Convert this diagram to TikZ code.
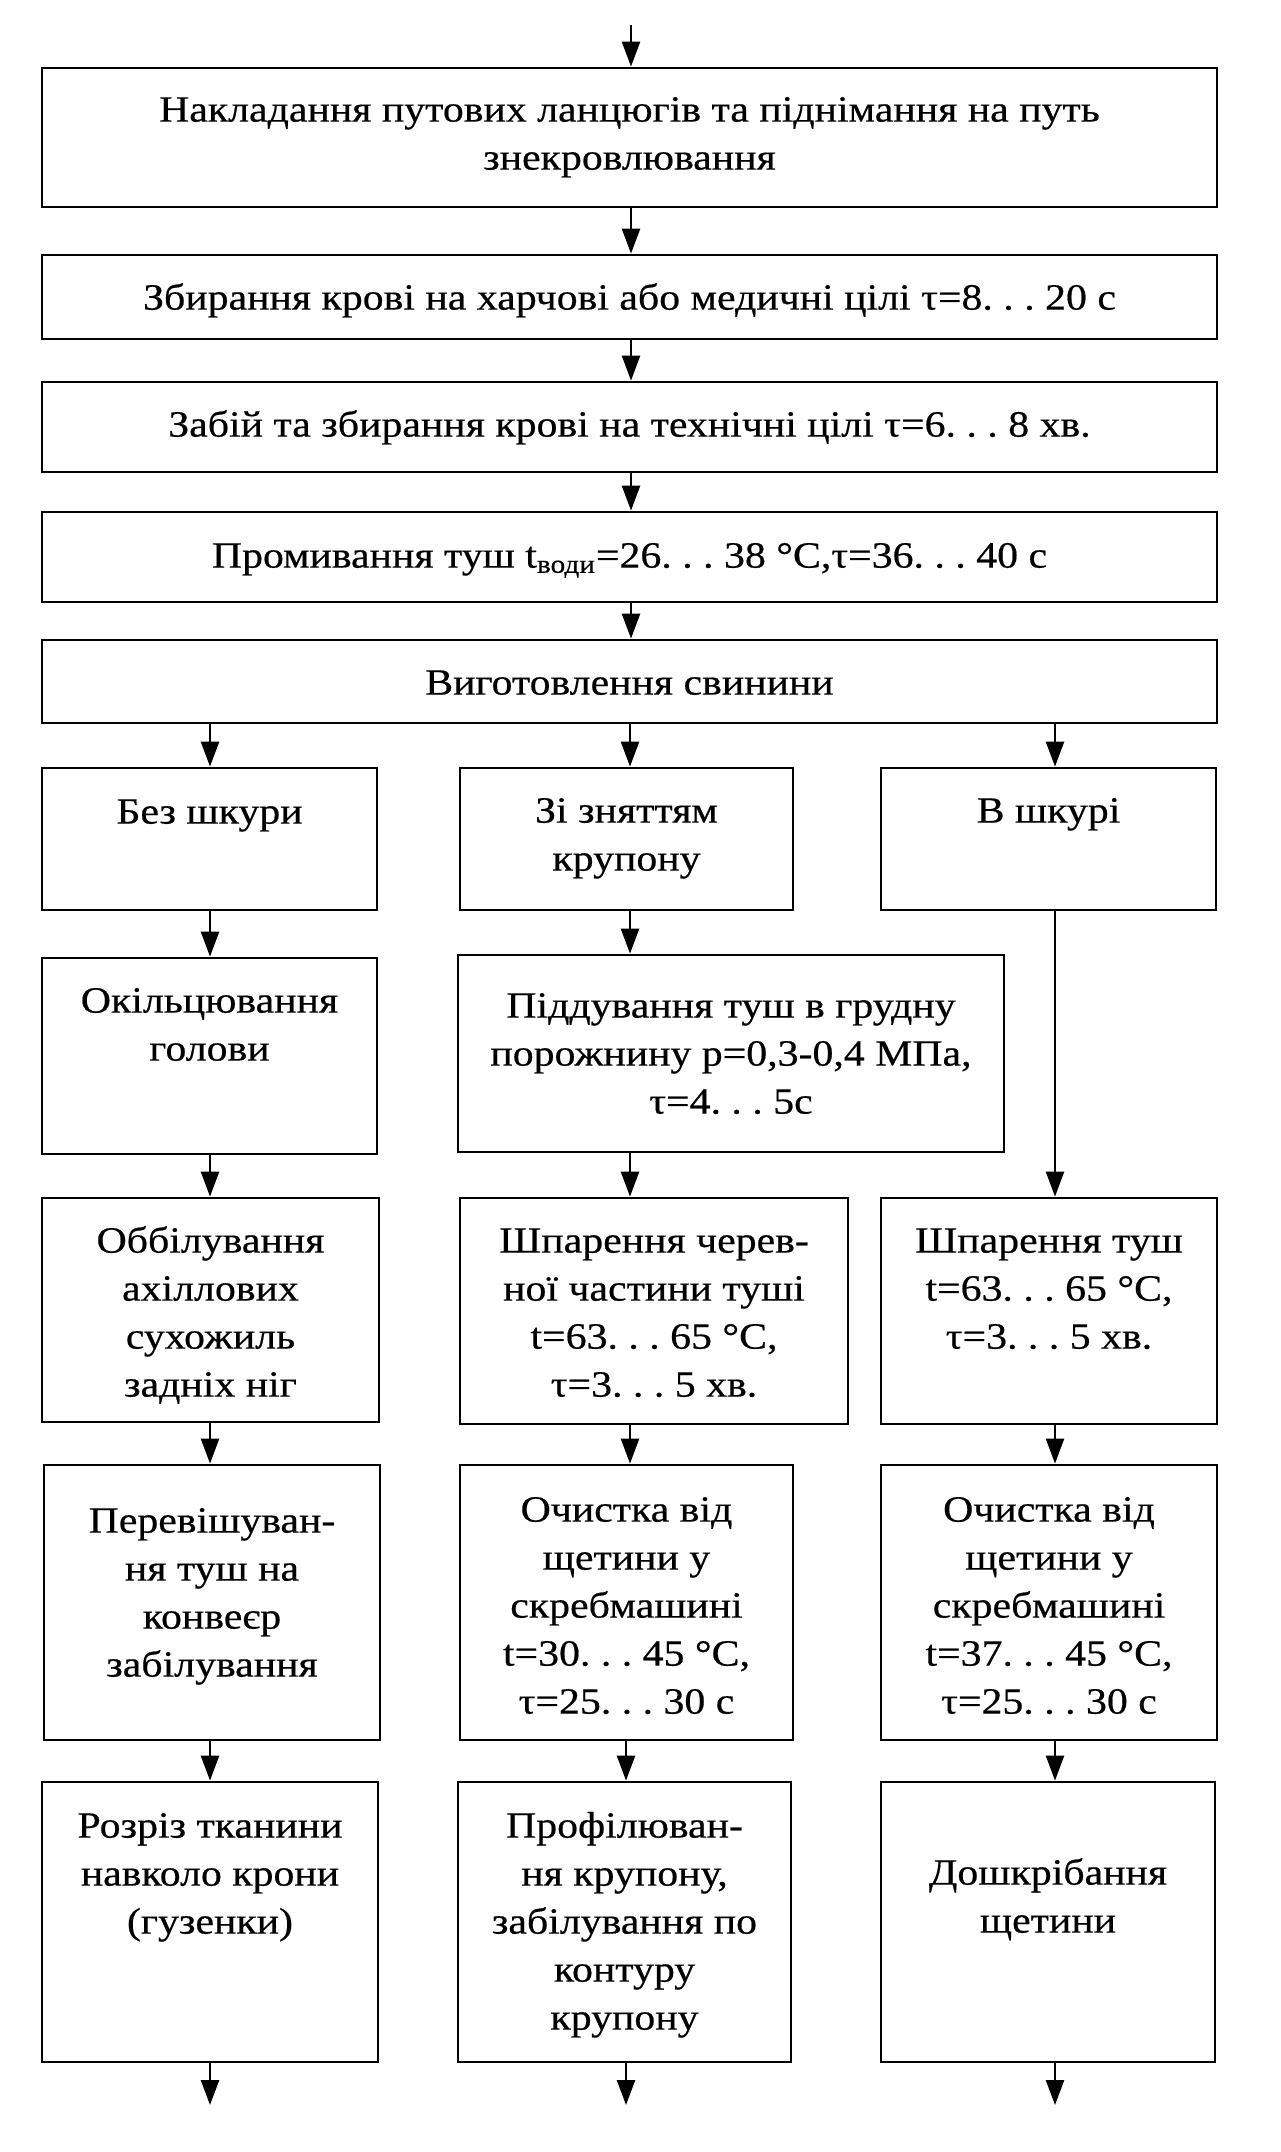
\documentclass[tikz,border=0pt]{standalone}
\usepackage{fontspec}
\setmainfont[FakeStretch=1.13,FakeBold=0.5]{Liberation Serif}
\usetikzlibrary{arrows.meta}
\newcommand\bx[7]{%
  \pgfmathsetmacro\bw{(#4-#2)*0.5}%
  \pgfmathsetmacro\bh{(#5-#3)*0.5}%
  \pgfmathsetmacro\bp{#6*0.5}%
  \node[box] (#1) at ({(#2+#4)/2},{(#3+#5)/2}) {\parbox[c][\bh pt][t]{\bw pt}{\centering\vspace*{\bp pt}\strut #7\par}};%
}
\begin{document}
\frenchspacing
\begin{tikzpicture}[x=0.5pt,y=-0.5pt,
  box/.style={draw, line width=1.4pt, inner sep=0pt, font=\fontsize{18.5}{24}\selectfont},
  arr/.style={line width=1.2pt, -{Triangle[length=12.5pt,width=9pt]}}]
\useasboundingbox (0,0) rectangle (1280,2152);
% main chain
\bx{b1}{42}{68}{1217}{207}{20}{Накладання путових ланцюгів та піднімання на путь\\знекровлювання}
\bx{b2}{42}{255}{1217}{339}{21}{Збирання крові на харчові або медичні цілі τ=8. . . 20 с}
\bx{b3}{42}{382}{1217}{472}{21}{Забій та збирання крові на технічні цілі τ=6. . . 8 хв.}
\bx{b4}{42}{512}{1217}{602}{22}{Промивання туш t\textsubscript{води}=26. . . 38 °C,τ=36. . . 40 с}
\bx{b5}{42}{640}{1217}{723}{21}{Виготовлення свинини}
% row 1
\bx{l1}{42}{768}{377}{910}{22}{Без шкури}
\bx{m1}{460}{768}{793}{910}{21}{Зі зняттям\\крупону}
\bx{r1}{881}{768}{1216}{910}{21}{В шкурі}
% row 2
\bx{l2}{42}{958}{377}{1154}{21}{Окільцювання\\голови}
\bx{m2}{458}{955}{1004}{1152}{29}{Піддування туш в грудну\\порожнину p=0,3-0,4 МПа,\\τ=4. . . 5с}
% row 3
\bx{l3}{42}{1198}{379}{1422}{21}{Оббілування\\ахіллових\\сухожиль\\задніх ніг}
\bx{m3}{460}{1198}{848}{1424}{21}{Шпарення черев-\\ної частини туші\\t=63. . . 65 °C,\\τ=3. . . 5 хв.}
\bx{r3}{881}{1198}{1217}{1424}{21}{Шпарення туш\\t=63. . . 65 °C,\\τ=3. . . 5 хв.}
% row 4
\bx{l4}{44}{1465}{380}{1740}{34}{Перевішуван-\\ня туш на\\конвеєр\\забілування}
\bx{m4}{460}{1465}{793}{1740}{23}{Очистка від\\щетини у\\скребмашині\\t=30. . . 45 °C,\\τ=25. . . 30 с}
\bx{r4}{881}{1465}{1217}{1740}{23}{Очистка від\\щетини у\\скребмашині\\t=37. . . 45 °C,\\τ=25. . . 30 с}
% row 5
\bx{l5}{42}{1782}{378}{2062}{22}{Розріз тканини\\навколо крони\\(гузенки)}
\bx{m5}{458}{1782}{791}{2062}{22}{Профілюван-\\ня крупону,\\забілування по\\контуру\\крупону}
\bx{r5}{881}{1782}{1215}{2062}{69}{Дошкрібання\\щетини}
% column coordinates
\coordinate (xc) at (631,0);
\coordinate (xl) at (210,0);
\coordinate (xm) at (630,0);
\coordinate (xr) at (1055,0);
\coordinate (top) at (631,25);
\coordinate (el) at (210,2105);
\coordinate (em) at (626,2105);
\coordinate (er) at (1055,2105);
% arrows
\draw[arr] (top) -- (b1.north -| top);
\draw[arr] (b1.south -| xc) -- (b2.north -| xc);
\draw[arr] (b2.south -| xc) -- (b3.north -| xc);
\draw[arr] (b3.south -| xc) -- (b4.north -| xc);
\draw[arr] (b4.south -| xc) -- (b5.north -| xc);
\draw[arr] (b5.south -| xl) -- (l1.north -| xl);
\draw[arr] (b5.south -| xm) -- (m1.north -| xm);
\draw[arr] (b5.south -| xr) -- (r1.north -| xr);
\draw[arr] (l1.south -| xl) -- (l2.north -| xl);
\draw[arr] (l2.south -| xl) -- (l3.north -| xl);
\draw[arr] (l3.south -| xl) -- (l4.north -| xl);
\draw[arr] (l4.south -| xl) -- (l5.north -| xl);
\draw[arr] (m1.south -| xm) -- (m2.north -| xm);
\draw[arr] (m2.south -| xm) -- (m3.north -| xm);
\draw[arr] (m3.south -| xm) -- (m4.north -| xm);
\draw[arr] (m4.south -| em) -- (m5.north -| em);
\draw[arr] (r1.south -| xr) -- (r3.north -| xr);
\draw[arr] (r3.south -| xr) -- (r4.north -| xr);
\draw[arr] (r4.south -| xr) -- (r5.north -| xr);
\draw[arr] (l5.south -| el) -- (el);
\draw[arr] (m5.south -| em) -- (em);
\draw[arr] (r5.south -| er) -- (er);
\end{tikzpicture}
\end{document}
